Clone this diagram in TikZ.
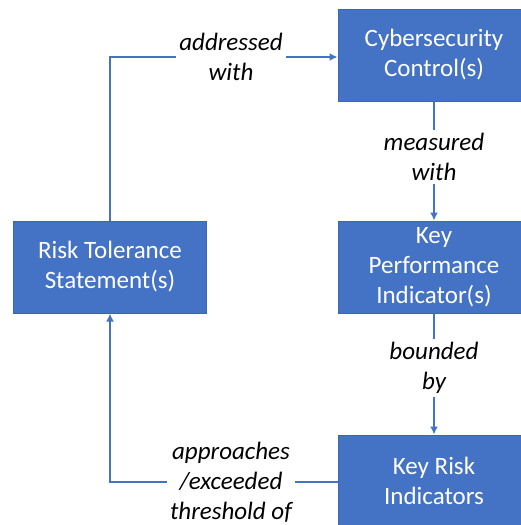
\documentclass[tikz,border=0pt]{standalone}
\usepackage{fontspec}
\setmainfont{Carlito}
\usetikzlibrary{arrows.meta}
\definecolor{boxblue}{HTML}{4472C4}
\definecolor{boxedge}{HTML}{3A66B5}
\begin{document}
\begin{tikzpicture}[x=1pt,y=-1pt,
  blk/.style={draw=boxedge,line width=1pt,fill=boxblue,text=white,minimum width=192pt,minimum height=92pt,align=center,inner sep=0pt,font=\fontsize{25}{30}\selectfont},
  lbl/.style={fill=white,align=center,inner sep=3pt,font=\itshape\fontsize{25}{30}\selectfont},
  conn/.style={draw=boxblue,line width=2.8pt},
  arr/.style={conn,-{Latex[length=8pt,width=8pt]}}]
\useasboundingbox (0,0) rectangle (520,525);
\node[blk] (cyber) at (434,55) {Cybersecurity\\Control(s)};
\node[blk] (kpi) at (434,267) {Key\\Performance\\Indicator(s)};
\node[blk] (kri) at (434,481) {Key Risk\\Indicators};
\node[blk,minimum width=193pt] (risk) at (110,267) {Risk Tolerance\\Statement(s)};
\node[lbl] (addr) at (231,57) {addressed\\with};
\node[lbl] (meas) at (434,157) {measured\\with};
\node[lbl] (bound) at (434,368) {bounded\\by};
\node[lbl] (appr) at (231,482) {approaches\\/exceeded\\threshold of};
\draw[conn] (risk.north) |- (addr.west);
\draw[arr] (addr.east) -- (cyber.west |- addr.east);
\draw[conn] (cyber.south) -- (meas.north);
\draw[arr] (meas.south) -- (kpi.north);
\draw[conn] (kpi.south) -- (bound.north);
\draw[arr] (bound.south) -- (kri.north);
\draw[conn] (kri.west |- appr.east) -- (appr.east);
\draw[arr] (appr.west) -| (risk.south);
\end{tikzpicture}
\end{document}
